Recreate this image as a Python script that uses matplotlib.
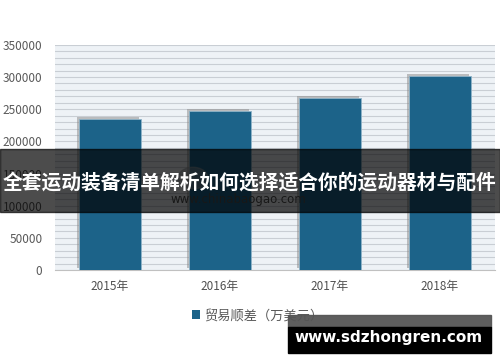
import matplotlib
matplotlib.use("Agg")
import matplotlib.pyplot as plt
import matplotlib.patheffects as pe
from matplotlib.patches import Rectangle, Circle, Patch
from matplotlib.ticker import MultipleLocator

plt.rcParams['font.family'] = ['Noto Sans CJK SC', 'DejaVu Sans']

# --- data ---
years = ["2015年", "2016年", "2017年", "2018年"]
surplus = [235000, 247000, 267000, 302000]
series_name = "贸易顺差（万美元）"
banner_text = "全套运动装备清单解析如何选择适合你的运动器材与配件"
site_text = "www.sdzhongren.com"
watermark = "www.chinabaogao.com"

bar_color = "#1c6389"

fig = plt.figure(figsize=(5, 3.62), dpi=100)
ax = fig.add_axes([0.11, 0.254, 0.88, 0.622])
ax.set_facecolor("#eef2f6")

bars = ax.bar(range(len(years)), surplus, width=0.56, color=bar_color,
              edgecolor="#8fb3c8", linewidth=0.6, zorder=3)
for b in bars:
    b.set_path_effects([pe.SimplePatchShadow(offset=(-1.5, 1.5), shadow_rgbFace="#888888", alpha=0.5),
                        pe.Normal()])

ax.set_xlim(-0.5, len(years) - 0.5)
ax.set_ylim(0, 350000)
ax.yaxis.set_major_locator(MultipleLocator(50000))
ax.yaxis.set_minor_locator(MultipleLocator(10000))
ax.grid(axis="y", which="both", color="#c9ced4", linewidth=0.8, zorder=0)
ax.set_xticks(range(len(years)))
ax.set_xticklabels(years, fontsize=8.5, color="#505050")
ax.tick_params(axis="y", which="both", labelsize=8.5, labelcolor="#595959", length=0, pad=9)
ax.tick_params(axis="x", length=0, pad=7)
for s in ["top", "right", "left"]:
    ax.spines[s].set_visible(False)
ax.spines["bottom"].set_color("#c0c0c0")

# faint watermark behind banner
fig.add_artist(Circle((0.386, 0.508), 0.03, transform=fig.transFigure,
                      color="#9aa0a6", alpha=0.5, zorder=4))
fig.text(0.476, 0.45, watermark, fontsize=8.5, color="#505050", ha="center", va="center",
         family="DejaVu Sans", zorder=4)

handle = Patch(facecolor=bar_color, edgecolor="none")
leg = ax.legend([handle], [series_name], loc="center", bbox_to_anchor=(0.515, 0.128),
                bbox_transform=fig.transFigure, frameon=False, handlelength=0.6,
                handleheight=0.6, handletextpad=0.3, fontsize=9.5)
for t in leg.get_texts():
    t.set_color("#595959")

# dark banner with title
fig.add_artist(Rectangle((0, 0.414), 1, 0.174, transform=fig.transFigure,
                         color="black", alpha=0.7, zorder=5))
fig.text(0.5, 0.495, banner_text, fontsize=14.2, fontweight="bold", color="white",
         ha="center", va="center", zorder=6)

# site box bottom right
fig.add_artist(Rectangle((0.576, 0.0967), 0.406, 0.033, transform=fig.transFigure,
                         color="#555555", alpha=0.95, zorder=5))
fig.add_artist(Rectangle((0.576, 0.025), 0.406, 0.072, transform=fig.transFigure,
                         color="black", zorder=5))
fig.text(0.778, 0.069, site_text, fontsize=11, fontweight="bold", color="white",
         ha="center", va="center", family="DejaVu Sans", zorder=6)

fig.savefig("out.png", dpi=100)
